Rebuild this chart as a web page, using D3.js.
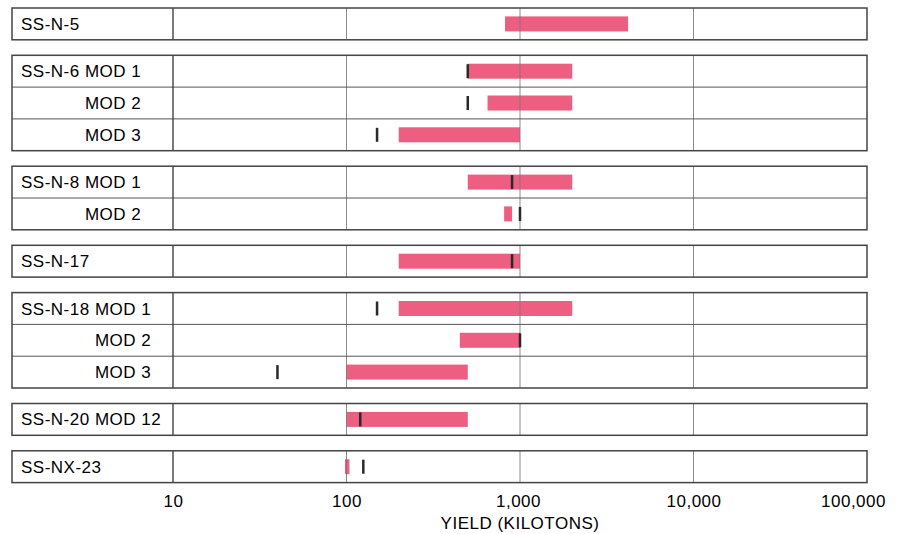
<!DOCTYPE html>
<html>
<head>
<meta charset="utf-8">
<script src="https://cdn.jsdelivr.net/npm/d3@7"></script>
<style>
  body { margin: 0; background: #fff; }
  text { font-family: "Liberation Sans", Arial, sans-serif; fill: #000; }
</style>
</head>
<body>
<div id="container"></div>
<script>
/* DATA */
const labels = ["SS-N-5", "SS-N-6 MOD 1", "MOD 2", "MOD 3", "SS-N-8 MOD 1", "MOD 2",
  "SS-N-17", "SS-N-18 MOD 1", "MOD 2", "MOD 3", "SS-N-20 MOD 12", "SS-NX-23"];
const groups = [0, 1, 1, 1, 2, 2, 3, 4, 4, 4, 5, 6];
const rangeLow = [820, 500, 650, 200, 500, 810, 200, 200, 450, 100, 100, 98];
const rangeHigh = [4200, 2000, 2000, 1000, 2000, 900, 1000, 2000, 1000, 500, 500, 104];
const marker = [null, 500, 500, 150, 900, 1000, 900, 150, 1000, 40, 120, 125];
const tickValues = [10, 100, 1000, 10000, 100000];

/* CONSTANTS */
const width = 901, height = 534;
const boxLeft = 12, boxRight = 867, divX = 173;
const boxTop = 8, rowH = 31.8, gap = 15.5, barH = 15, markH = 14;
const pink = "#ee5e80";
const fontSize = 17, spacing = 0.5;

const rows = labels.map((l, i) => ({
  label: l, group: groups[i], lo: rangeLow[i], hi: rangeHigh[i], mark: marker[i],
  y: boxTop + i * rowH + groups[i] * gap
}));

const svg = d3.select("#container")
  .append("svg")
  .attr("width", width)
  .attr("height", height)

const x = d3.scaleLog()
  .domain([10, 100000])
  .range([divX, boxRight])

// group boxes
const groupIds = Array.from(new Set(groups));
const boxes = groupIds.map(g => {
  const rs = rows.filter(r => r.group === g);
  return { g, y0: rs[0].y, y1: rs[rs.length - 1].y + rowH, rows: rs };
});

// bars
svg.selectAll("rect.bar")
  .data(rows)
  .join("rect")
  .attr("class", "bar")
  .attr("x", d => x(d.lo))
  .attr("width", d => Math.max(2.5, x(d.hi) - x(d.lo)))
  .attr("y", d => d.y + (rowH - barH) / 2)
  .attr("height", barH)
  .attr("fill", pink)

// grid lines
boxes.forEach(b => {
  svg.selectAll(null)
    .data([100, 1000, 10000])
    .join("line")
    .attr("x1", d => x(d)).attr("x2", d => x(d))
    .attr("y1", b.y0).attr("y2", b.y1)
    .attr("stroke", "#777")
    .attr("stroke-width", 1)
    .attr("opacity", 0.85)

  svg.selectAll(null)
    .data(b.rows.slice(1))
    .join("line")
    .attr("x1", boxLeft).attr("x2", boxRight)
    .attr("y1", d => d.y).attr("y2", d => d.y)
    .attr("stroke", "#555")
    .attr("stroke-width", 1)

  svg.append("line")
    .attr("x1", x(10)).attr("x2", x(10))
    .attr("y1", b.y0).attr("y2", b.y1)
    .attr("stroke", "#333")
    .attr("stroke-width", 1.3)

  svg.append("rect")
    .attr("x", boxLeft).attr("y", b.y0)
    .attr("width", boxRight - boxLeft).attr("height", b.y1 - b.y0)
    .attr("fill", "none")
    .attr("stroke", "#444")
    .attr("stroke-width", 1.5)
});

// markers
svg.selectAll("rect.mark")
  .data(rows.filter(d => d.mark != null))
  .join("rect")
  .attr("class", "mark")
  .attr("x", d => x(d.mark) - 1.25)
  .attr("width", 2.5)
  .attr("y", d => d.y + (rowH - markH) / 2)
  .attr("height", markH)
  .attr("fill", "#2a2a2a")

// labels
boxes.forEach(b => {
  const first = b.rows[0];
  const t = svg.append("text")
    .attr("x", 21)
    .attr("y", first.y + rowH / 2 + 6)
    .attr("font-size", fontSize)
    .attr("letter-spacing", spacing)
    .text(first.label);
  const endX = 21 + t.node().getComputedTextLength();
  svg.selectAll(null)
    .data(b.rows.slice(1))
    .join("text")
    .attr("x", endX)
    .attr("y", d => d.y + rowH / 2 + 6)
    .attr("text-anchor", "end")
    .attr("font-size", fontSize)
    .attr("letter-spacing", spacing)
    .text(d => d.label);
});

// axis
const lastBox = boxes[boxes.length - 1];
const axis = svg.append("g")
  .attr("transform", `translate(0, ${lastBox.y1})`)
  .call(d3.axisBottom(x).tickValues(tickValues).tickFormat(d3.format(",")).tickSize(0).tickPadding(12))
axis.select(".domain").remove()
axis.selectAll("text")
  .attr("font-size", fontSize)
  .attr("letter-spacing", spacing)
  .attr("fill", "#000")
  .attr("font-family", "Liberation Sans, Arial, sans-serif")
  .attr("dx", d => d === 100000 ? -14 : (d === 1000 ? -2 : 0))

svg.append("text")
  .attr("x", x(1000))
  .attr("y", 529)
  .attr("text-anchor", "middle")
  .attr("font-size", fontSize)
  .attr("letter-spacing", spacing)
  .text("YIELD (KILOTONS)")
</script>
</body>
</html>
